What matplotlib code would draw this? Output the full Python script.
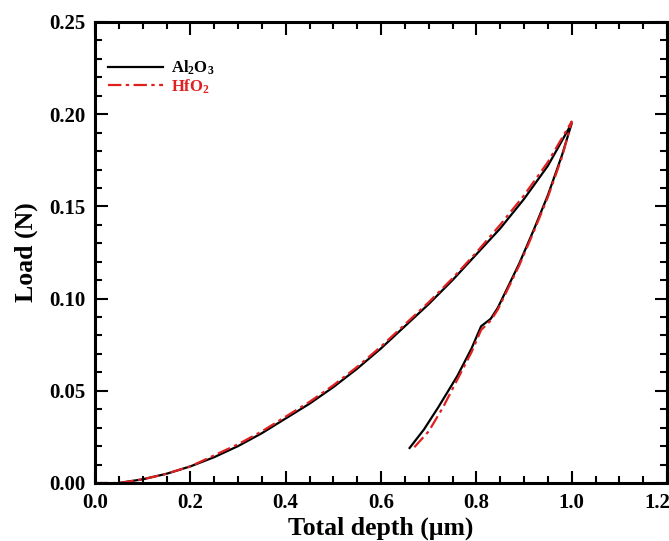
import numpy as np
import matplotlib.pyplot as plt
from matplotlib.ticker import MultipleLocator, FuncFormatter
from matplotlib.transforms import blended_transform_factory, offset_copy

# loading / unloading curves
al_load_x = [0.05, 0.10, 0.15, 0.20, 0.25, 0.30, 0.35, 0.40, 0.45, 0.50, 0.55, 0.60,
             0.65, 0.70, 0.75, 0.80, 0.85, 0.90, 0.95, 1.00]
al_load_y = [0.000, 0.002, 0.005, 0.009, 0.014, 0.020, 0.027, 0.035, 0.043, 0.052,
             0.062, 0.073, 0.085, 0.097, 0.110, 0.124, 0.138, 0.154, 0.172, 0.195]
al_unload_x = [1.00, 0.98, 0.95, 0.92, 0.89, 0.86, 0.845, 0.83, 0.81, 0.79, 0.76, 0.72,
               0.69, 0.66]
al_unload_y = [0.195, 0.178, 0.156, 0.137, 0.119, 0.103, 0.095, 0.089, 0.085, 0.073,
               0.058, 0.041, 0.029, 0.019]

hf_load_x = [0.00, 0.05, 0.10, 0.15, 0.20, 0.25, 0.30, 0.35, 0.40, 0.45, 0.50, 0.55, 0.60,
             0.65, 0.70, 0.75, 0.80, 0.85, 0.90, 0.95, 1.00]
hf_load_y = [0.000, 0.000, 0.002, 0.005, 0.009, 0.015, 0.021, 0.028, 0.036, 0.044, 0.053,
             0.063, 0.074, 0.086, 0.098, 0.111, 0.125, 0.140, 0.156, 0.174, 0.196]
hf_unload_x = [1.00, 0.98, 0.95, 0.92, 0.89, 0.86, 0.845, 0.83, 0.81, 0.79, 0.76, 0.73,
               0.70, 0.665]
hf_unload_y = [0.196, 0.177, 0.155, 0.136, 0.118, 0.102, 0.094, 0.088, 0.083, 0.071,
               0.056, 0.041, 0.028, 0.018]

x_max = 1.2

plt.rcParams['font.family'] = 'Liberation Serif'
plt.rcParams['font.weight'] = 'bold'
plt.rcParams['mathtext.fontset'] = 'custom'
plt.rcParams['mathtext.rm'] = 'Liberation Serif:bold'
plt.rcParams['mathtext.it'] = 'Liberation Serif:bold'

fig = plt.figure(figsize=(6.69, 5.41), dpi=100)
ax = fig.add_axes([95 / 669, 58 / 541, 572 / 669, 461 / 541])

ax.plot(al_load_x + al_unload_x, al_load_y + al_unload_y, color='black', lw=1.6,
        label='Al$_2$O$_3$')
ax.plot(hf_load_x + hf_unload_x, hf_load_y + hf_unload_y, color='#e02020', lw=1.6,
        ls=(0, (6, 2, 1.5, 2)), label='HfO$_2$')

ax.set_xlim(0, x_max)
ax.set_ylim(0, 0.25)
ax.xaxis.set_major_locator(MultipleLocator(0.2))
ax.xaxis.set_minor_locator(MultipleLocator(0.05))
ax.yaxis.set_major_locator(MultipleLocator(0.05))
ax.yaxis.set_minor_locator(MultipleLocator(0.01))
# the 1.2 label is drawn separately so it stays inside the picture
ax.xaxis.set_major_formatter(FuncFormatter(lambda v, p: '' if v > x_max - 1e-6 else f'{v:.1f}'))
ax.yaxis.set_major_formatter(plt.FormatStrFormatter('%.2f'))
ax.tick_params(which='both', direction='in', top=True, right=True, width=1.5,
               labelsize=15)
ax.tick_params(which='major', length=9, pad=7)
ax.tick_params(which='minor', length=5)
for s in ax.spines.values():
    s.set_linewidth(2.2)

trans = offset_copy(blended_transform_factory(ax.transData, ax.transAxes),
                    fig=fig, x=2, y=-7, units='points')
ax.text(x_max, 0, f'{x_max:.1f}', transform=trans, ha='right', va='top',
        fontsize=15, fontweight='bold')

ax.set_xlabel('Total depth (\u03bcm)', fontsize=18.5, fontweight='bold', labelpad=3)
ax.set_ylabel('Load (N)', fontsize=18.5, fontweight='bold', labelpad=8)

leg = ax.legend(loc='upper left', frameon=False, fontsize=12, handlelength=3.3,
                borderaxespad=0, borderpad=0, labelspacing=0.0, handletextpad=0.5,
                bbox_to_anchor=(0.023, 0.92))
leg.get_texts()[1].set_color('#e02020')

fig.savefig('out.png', dpi=100)
